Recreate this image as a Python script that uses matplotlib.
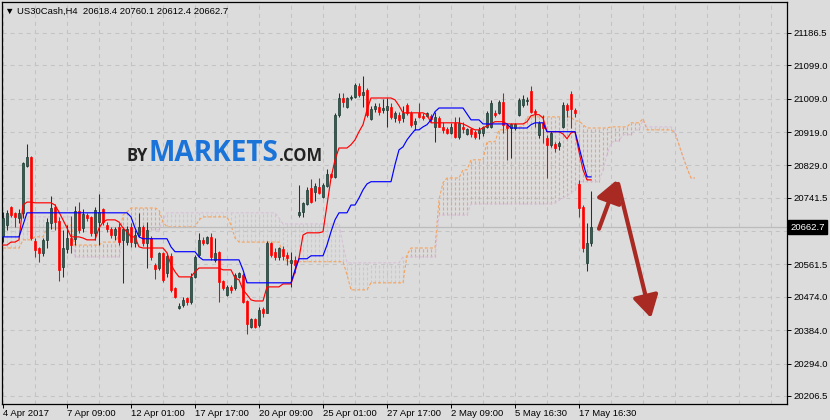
import matplotlib
matplotlib.use("Agg")
import matplotlib.pyplot as plt
import matplotlib.transforms as mtransforms
import numpy as np

plt.rcParams['lines.scale_dashes'] = False

# ---------------- data ----------------
opens = [20639,20668,20717,20701,20687,20701,20828,20852,20625,20606,
 20593,20628,20674,20717,20679,20555,20604,20633,20631,20706,
 20660,20695,20690,20647,20676,20711,20668,20658,20641,20663,
 20628,20622,20663,20620,20641,20663,20620,20633,20561,20552,
 20593,20539,20585,20498,20444,20453,20471,20461,20528,20588,
 20628,20620,20636,20574,20596,20517,20480,20501,20498,20528,
 20534,20463,20393,20415,20399,20442,20431,20620,20596,20582,
 20604,20588,20566,20574,20695,20703,20725,20768,20758,20771,
 20744,20774,20806,20798,20966,21011,20987,21011,21014,21044,
 21020,21033,20955,20982,20987,20979,20979,20987,20957,20966,
 20957,20993,20971,20941,20971,20963,20963,20963,20933,20957,
 20933,20928,20917,20944,20906,20933,20914,20928,20920,20917,
 20917,20933,20933,20971,20971,21001,20939,20930,20930,20966,
 20993,21003,21030,20976,20912,20944,20903,20885,20887,20882,
 20933,20993,21022,20979,20779,20717,20566,20618.4]

highs = [20703,20709,20720,20703,20711,20839,20887,20855,20633,20609,
 20633,20687,20747,20725,20690,20655,20668,20692,20720,20730,
 20711,20701,20692,20717,20752,20714,20676,20663,20663,20674,
 20663,20666,20674,20655,20701,20668,20676,20639,20566,20596,
 20596,20593,20593,20501,20458,20474,20474,20539,20588,20647,
 20636,20639,20647,20633,20598,20520,20507,20507,20539,20542,
 20539,20466,20417,20417,20447,20447,20625,20622,20606,20609,
 20612,20596,20596,20585,20777,20730,20771,20793,20782,20795,
 20782,20820,20809,20971,21025,21025,21014,21020,21052,21052,
 21071,21038,20990,20998,20998,21009,21011,20998,20976,20974,
 20990,20998,20976,20957,20998,20971,20974,20968,20974,20963,
 20947,20933,20944,20960,20960,20947,20930,20930,20925,20933,
 20936,20976,21006,20979,21006,21025,20944,20944,20944,21011,
 21020,21014,21044,20982,20949,20966,20912,20922,20893,20895,
 21001,20998,21030,20984,20790,20722,20674,20760.1]

lows = [20622,20655,20690,20663,20674,20687,20825,20628,20582,20569,
 20585,20606,20658,20655,20517,20528,20593,20593,20614,20647,
 20650,20679,20639,20628,20614,20668,20650,20633,20628,20614,
 20512,20614,20609,20609,20636,20612,20552,20574,20523,20547,
 20515,20528,20488,20471,20442,20447,20453,20455,20525,20582,
 20614,20617,20574,20569,20461,20493,20477,20485,20493,20525,
 20458,20374,20390,20390,20393,20420,20431,20582,20574,20574,
 20574,20561,20501,20539,20690,20690,20722,20728,20733,20752,
 20741,20771,20795,20795,20960,20987,20984,21006,21011,21014,
 20987,20960,20952,20974,20966,20971,20933,20955,20947,20944,
 20947,20966,20933,20925,20957,20952,20960,20947,20893,20933,
 20917,20914,20914,20903,20901,20917,20912,20906,20901,20901,
 20909,20930,20930,20960,20968,20917,20844,20849,20925,20963,
 20987,20993,20971,20933,20903,20890,20795,20879,20866,20871,
 20930,20960,20930,20960,20690,20596,20544,20612.4]

closes = [20687,20701,20695,20690,20701,20836,20852,20633,20601,20593,
 20628,20676,20714,20676,20547,20606,20633,20614,20706,20655,
 20698,20687,20647,20709,20703,20676,20658,20641,20658,20622,
 20658,20658,20622,20641,20663,20620,20655,20582,20550,20593,
 20520,20585,20493,20474,20450,20466,20461,20528,20582,20628,
 20620,20636,20582,20593,20515,20498,20501,20493,20534,20539,
 20461,20401,20415,20393,20439,20431,20620,20588,20582,20606,
 20585,20579,20574,20561,20703,20728,20763,20730,20774,20755,
 20777,20806,20798,20966,21011,21001,21011,21014,21047,21020,
 21028,20966,20982,20990,20974,20984,20990,20960,20971,20952,
 20971,20971,20939,20949,20960,20957,20971,20955,20960,20933,
 20925,20917,20933,20906,20944,20928,20928,20914,20906,20925,
 20933,20971,20998,20966,21001,20939,20930,20941,20941,21006,
 21009,21006,20974,20971,20944,20930,20885,20917,20876,20890,
 20993,20979,20982,20971,20714,20606,20620,20662.7]

tenkan = [20614,20614,20622,20622,20628,20722,20730,20730,20728,20728,
 20728,20728,20728,20722,20703,20682,20660,20636,20636,20636,
 20633,20628,20628,20628,20660,20676,20682,20682,20682,20676,
 20660,20650,20636,20636,20609,20606,20606,20606,20606,20606,
 20606,20593,20561,20542,20528,20528,20528,20528,20542,20552,
 20552,20552,20552,20552,20552,20547,20547,20547,20525,20520,
 20493,20480,20466,20463,20463,20463,20501,20501,20501,20501,
 20509,20509,20509,20542,20579,20641,20647,20647,20647,20647,
 20650,20722,20795,20844,20876,20876,20876,20885,20898,20920,
 20939,20979,21011,21011,21011,21011,21011,21011,21006,20990,
 20971,20971,20971,20971,20971,20971,20966,20944,20944,20944,
 20944,20944,20944,20944,20944,20941,20936,20930,20925,20925,
 20930,20936,20941,20947,20947,20947,20941,20941,20941,20941,
 20941,20947,20963,20966,20966,20957,20920,20920,20920,20920,
 20914,20901,20917,20920,20866,20817,20790,20790]

kijun = ([20636]*5 + [20668] + [20701]*26 + [20690, 20660, 20636] + [20631]*7 +
         [20609] + [20596]*6 + [20582] + [20574]*10 + [20547] + [20512]*12 +
         [20547] + [20577]*3 + [20585]*4 + [20614, 20650, 20682] + [20701]*3 +
         [20722]*2 + [20741, 20763, 20779] + [20785]*6 + [20831, 20871, 20879, 20898,
         20912, 20925, 20925, 20933, 20939, 20952, 20974] + [20984]*7 + [20968] +
         [20952]*3 + [20941]*7 + [20930]*5 + [20939] + [20944]*3 + [20920]*8 +
         [20879, 20836, 20798, 20798])

span_a = ([20606]*5 + [20628]*3 + [20636]*3 + [20660]*5 + [20668]*2 + [20614]*7 +
          [20622]*4 + [20641, 20695, 20703] + [20714]*7 + [20709, 20676] + [20663]*8 +
          [20682] + [20690]*7 + [20668, 20633] + [20622]*11 + [20588] + [20569]*15 +
          [20534] + [20493]*5 + [20512]*9 + [20588] + [20606]*7 + [20736, 20782] +
          [20795]*4 + [20817]*2 + [20844]*4 + [20893]*3 + [20925]*3 + [20933]*4 +
          [20960]*12 + [20949]*2 + [20939] + [20930]*6 + [20933]*5 + [20944]*3 +
          [20955] + [20925]*7 + [20917, 20885, 20852, 20822, 20795, 20795])

span_b = ([20690]*18 + [20582]*12 + [20628] + [20655]*9 + [20682] + [20701]*28 +
          [20687] + [20671]*15 + [20614] + [20566]*14 + [20582]*9 + [20695]*8 +
          [20725]*21 + [20728, 20736, 20741, 20747, 20755, 20763] + [20785]*6 +
          [20817, 20858, 20890, 20895, 20895, 20912, 20912, 20912, 20925, 20925, 20952] +
          [20933]*7 + [20920, 20885, 20852, 20822, 20795, 20795])

y_ticks = [21186.5, 21099.0, 21009.0, 20919.0, 20829.0, 20741.5, 20651.5,
           20561.5, 20474.0, 20384.0, 20294.0, 20206.5]
x_tick_bars = [0, 16, 32, 48, 64, 80, 96, 112, 128, 144]
x_tick_labels = ["4 Apr 2017", "7 Apr 09:00", "12 Apr 01:00", "17 Apr 17:00",
                 "20 Apr 09:00", "25 Apr 01:00", "27 Apr 17:00", "2 May 09:00",
                 "5 May 16:30", "17 May 16:30"]
last_price = 20662.7
header_text = "\u25bc US30Cash,H4  20618.4 20760.1 20612.4 20662.7"
arrow_up = ((149.0, 20658), (153.5, 20790))      # (start, tip)
arrow_down = ((153.8, 20779), (162.0, 20417))
logo_parts = [("BY", '#222222', 12), ("MARKETS", '#1a73d9', 22), (".COM", '#222222', 12)]

# ---------------- styling ----------------
BG = '#dcdcdc'
GRID = '#c3c3c3'
FONT = ['Liberation Sans', 'DejaVu Sans']
LOGO_FONT = ['Open Sans', 'DejaVu Sans']
FS = 6.8
W, H = 830, 420

fig = plt.figure(figsize=(W / 100, H / 100), dpi=100, facecolor=BG)
ax = fig.add_axes([2 / W, 16 / H, 785 / W, 402 / H])
ax.set_facecolor(BG)
ax.set_xlim(-0.25, 196.0)
ax.set_ylim(20184.8, 21270.2)

# grid
for v in range(0, 197, 8):
    ax.axvline(v, color=GRID, lw=0.75, ls=(0, (2.9, 2.9)), zorder=0)
for t in y_ticks:
    ax.axhline(t, color=GRID, lw=0.75, ls=(0, (2.9, 2.9)), zorder=0)

# Ichimoku cloud
idx_s = np.arange(len(span_a))
a = np.array(span_a, dtype=float)
b = np.array(span_b, dtype=float)
up = a >= b
dash = (0, (2.2, 1.4))
ax.vlines(idx_s[up], b[up], a[up], colors='#f4a460', linestyles=[dash], lw=0.8, zorder=1)
ax.vlines(idx_s[~up], a[~up], b[~up], colors='#d8bfd8', linestyles=[dash], lw=0.8, zorder=1)
ax.plot(idx_s, b, color='#d8bfd8', lw=0.8, ls=dash, zorder=1.2)
ax.plot(idx_s, a, color='#f4a460', lw=0.8, ls=dash, zorder=1.3)

# current price line
ax.axhline(last_price, color='#bcbcbc', lw=0.9, zorder=1.5)

# candles
o = np.array(opens, dtype=float)
h = np.array(highs, dtype=float)
l = np.array(lows, dtype=float)
c = np.array(closes, dtype=float)
x = np.arange(len(o))
bull = c >= o
GREEN_FACE = '#2f5f4f'
GREEN_EDGE = '#1c3830'
RED = '#ff0000'
ax.vlines(x[bull], l[bull], h[bull], colors=GREEN_EDGE, lw=0.75, zorder=2)
ax.vlines(x[~bull], l[~bull], h[~bull], colors=RED, lw=0.75, zorder=2)
ax.bar(x[bull], (c - o)[bull], bottom=o[bull], width=0.72, color=GREEN_FACE,
       edgecolor=GREEN_EDGE, linewidth=0.5, zorder=3)
ax.bar(x[~bull], (o - c)[~bull], bottom=c[~bull], width=0.72, color=RED,
       edgecolor=RED, linewidth=0.5, zorder=3)

# Tenkan / Kijun
ax.plot(np.arange(len(tenkan)), tenkan, color='#ff0000', lw=0.85, zorder=4)
ax.plot(np.arange(len(kijun)), kijun, color='#0000ff', lw=0.85, zorder=4.1)

# arrows
for (start, tip) in (arrow_up, arrow_down):
    ax.annotate('', xy=tip, xytext=start,
                arrowprops=dict(arrowstyle='-|>,head_length=0.95,head_width=0.55',
                                color='#a82a22', lw=3.0, shrinkA=0, shrinkB=0,
                                mutation_scale=14), zorder=5)

# axes, ticks
for s in ax.spines.values():
    s.set_color('black')
    s.set_linewidth(0.9)
ax.yaxis.tick_right()
ax.set_yticks(y_ticks)
ax.set_yticklabels([f"{t:.1f}" for t in y_ticks], fontsize=FS, family=FONT)
ax.tick_params(axis='y', direction='out', length=3, width=0.7, pad=1.5, colors='black')
ax.set_xticks(x_tick_bars)
ax.set_xticklabels(x_tick_labels, fontsize=FS, family=FONT, ha='left')
ax.tick_params(axis='x', direction='out', length=3, width=0.7, pad=0.5, colors='black')

# current price tag
trans = mtransforms.offset_copy(mtransforms.blended_transform_factory(ax.transAxes, ax.transData),
                                fig=fig, x=3.0, y=0, units='dots')
ax.text(1.0, last_price, f"{last_price:.1f}", transform=trans, ha='left', va='center',
        fontsize=FS, family=FONT, color='white', clip_on=False, zorder=10,
        bbox=dict(boxstyle='square,pad=0.22', facecolor='black', edgecolor='black'))

# header
fig.text(5 / W, 1 - 11 / H, header_text, fontsize=FS, family=FONT, color='black',
         ha='left', va='center')

# logo watermark: pieces placed side by side
renderer = fig.canvas.get_renderer()
x_px = 126.0
for txt, col, size in logo_parts:
    t = fig.text(x_px / W, 1 - 161 / H, txt, fontsize=size, weight='bold',
                 family=LOGO_FONT, color=col, ha='left', va='baseline')
    if txt == "MARKETS":
        ext = t.get_window_extent(renderer)
        t.set_fontsize(size * 130.0 / ext.width)
    ext = t.get_window_extent(renderer)
    x_px = ext.x1 + 1.0

fig.savefig('out.png', dpi=100, facecolor=BG)
